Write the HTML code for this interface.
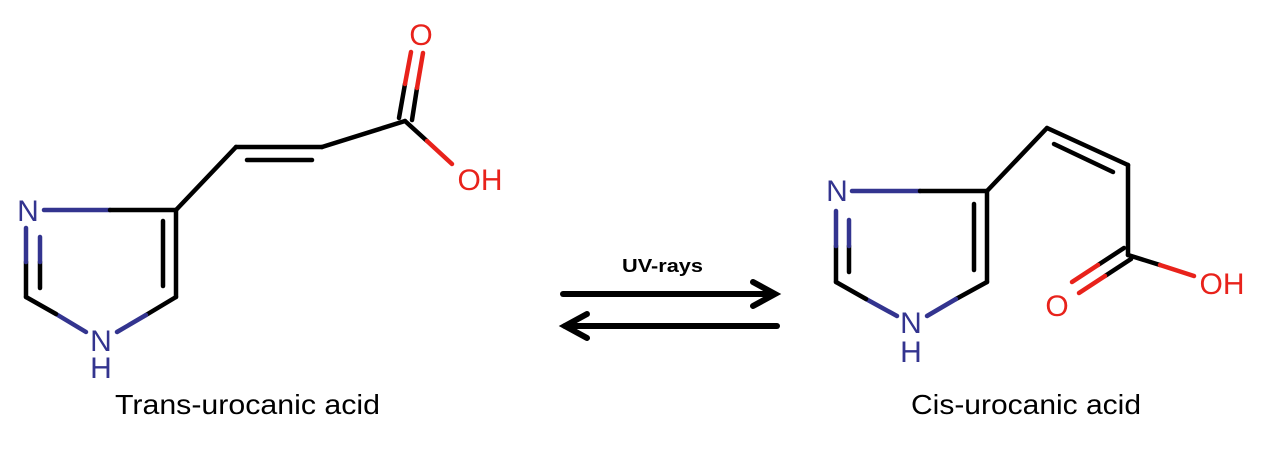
<!DOCTYPE html>
<html><head><style>body{margin:0;background:#fff}svg{display:block}</style></head><body>
<svg width="1269" height="459" viewBox="0 0 1269 459" xmlns="http://www.w3.org/2000/svg">
<g stroke-width="4.5" stroke-linecap="round" fill="none">
<!-- left molecule -->
<line x1="44" y1="210" x2="110" y2="210" stroke="#33348f"/>
<line x1="110" y1="210" x2="176" y2="210" stroke="#000"/>
<line x1="176" y1="210" x2="176" y2="297" stroke="#000"/>
<line x1="163" y1="221" x2="163" y2="286" stroke="#000"/>
<line x1="176" y1="297" x2="146" y2="315" stroke="#000"/>
<line x1="146" y1="315" x2="117" y2="332" stroke="#33348f"/>
<line x1="86" y1="332" x2="56" y2="314" stroke="#33348f"/>
<line x1="56" y1="314" x2="26" y2="297" stroke="#000"/>
<line x1="26" y1="297" x2="26" y2="262" stroke="#000"/>
<line x1="26" y1="262" x2="26" y2="228" stroke="#33348f"/>
<line x1="40" y1="288" x2="40" y2="262" stroke="#000"/>
<line x1="40" y1="262" x2="40" y2="237" stroke="#33348f"/>
<line x1="176" y1="210" x2="236" y2="147" stroke="#000"/>
<line x1="236" y1="147" x2="322" y2="147" stroke="#000"/>
<line x1="247" y1="160" x2="312" y2="160" stroke="#000"/>
<line x1="322" y1="147" x2="405" y2="121" stroke="#000"/>
<line x1="405" y1="121" x2="427" y2="141" stroke="#000"/>
<line x1="427" y1="141" x2="452" y2="164" stroke="#e8221b"/>
<line x1="399" y1="118" x2="405" y2="84" stroke="#000"/>
<line x1="405" y1="84" x2="411" y2="52" stroke="#e8221b"/>
<line x1="412" y1="120" x2="417" y2="88" stroke="#000"/>
<line x1="417" y1="88" x2="423" y2="53" stroke="#e8221b"/>
<!-- right molecule -->
<line x1="852" y1="191" x2="920" y2="191" stroke="#33348f"/>
<line x1="920" y1="191" x2="987" y2="191" stroke="#000"/>
<line x1="987" y1="191" x2="987" y2="282" stroke="#000"/>
<line x1="974" y1="204" x2="974" y2="270" stroke="#000"/>
<line x1="987" y1="282" x2="956" y2="299" stroke="#000"/>
<line x1="956" y1="299" x2="927" y2="316" stroke="#33348f"/>
<line x1="897" y1="316" x2="866" y2="299" stroke="#33348f"/>
<line x1="866" y1="299" x2="836" y2="282" stroke="#000"/>
<line x1="836" y1="282" x2="836" y2="246" stroke="#000"/>
<line x1="836" y1="246" x2="836" y2="211" stroke="#33348f"/>
<line x1="849" y1="272" x2="849" y2="246" stroke="#000"/>
<line x1="849" y1="246" x2="849" y2="220" stroke="#33348f"/>
<line x1="987" y1="191" x2="1047" y2="128" stroke="#000"/>
<line x1="1047" y1="128" x2="1128" y2="165" stroke="#000"/>
<line x1="1054" y1="144" x2="1113" y2="172" stroke="#000"/>
<line x1="1128" y1="165" x2="1128" y2="255" stroke="#000"/>
<line x1="1128" y1="255" x2="1160" y2="265" stroke="#000"/>
<line x1="1160" y1="265" x2="1194" y2="276" stroke="#e8221b"/>
<line x1="1124" y1="248" x2="1098" y2="265" stroke="#000"/>
<line x1="1098" y1="265" x2="1072" y2="282" stroke="#e8221b"/>
<line x1="1131" y1="259" x2="1105" y2="276" stroke="#000"/>
<line x1="1105" y1="276" x2="1079" y2="293" stroke="#e8221b"/>
<!-- arrows -->
<g stroke="#000" stroke-width="6">
<line x1="563" y1="294" x2="774" y2="294"/>
<polyline points="753,282 775,294 753,306"/>
<line x1="565" y1="326" x2="777" y2="326"/>
<polyline points="587,314 565,326 587,338"/>
</g>
</g>
<g font-family="Liberation Sans, sans-serif" font-size="30">
<text x="28" y="221" text-anchor="middle" fill="#33348f">N</text>
<text x="101" y="351" text-anchor="middle" fill="#33348f">N</text>
<text x="101" y="378" text-anchor="middle" fill="#33348f">H</text>
<text x="421" y="45" text-anchor="middle" fill="#e8221b">O</text>
<text x="480" y="190" text-anchor="middle" fill="#e8221b">OH</text>
<text x="837" y="201" text-anchor="middle" fill="#33348f">N</text>
<text x="911" y="333" text-anchor="middle" fill="#33348f">N</text>
<text x="911" y="362" text-anchor="middle" fill="#33348f">H</text>
<text x="1057" y="316" text-anchor="middle" fill="#e8221b">O</text>
<text x="1222" y="294" text-anchor="middle" fill="#e8221b">OH</text>
</g>
<g font-family="Liberation Sans, sans-serif" font-size="28" fill="#000">
<text x="115" y="414" textLength="265" lengthAdjust="spacingAndGlyphs">Trans-urocanic acid</text>
<text x="911" y="414" textLength="230" lengthAdjust="spacingAndGlyphs">Cis-urocanic acid</text>
</g>
<text x="622" y="272" font-family="Liberation Sans, sans-serif" font-weight="bold" font-size="18" textLength="81" lengthAdjust="spacingAndGlyphs">UV-rays</text>
</svg>
</body></html>
